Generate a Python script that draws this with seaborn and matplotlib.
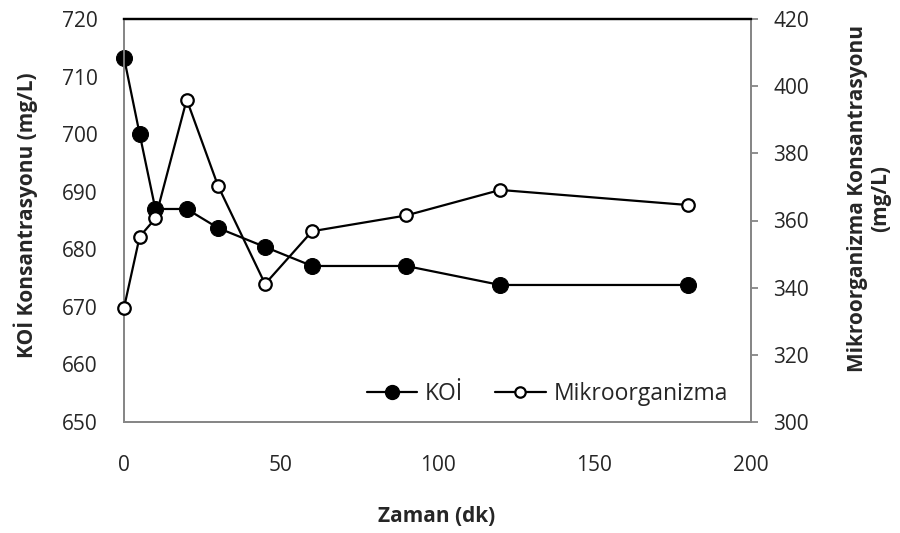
import matplotlib
matplotlib.use("Agg")
import matplotlib.pyplot as plt
from matplotlib.lines import Line2D
import seaborn as sns
import pandas as pd

# Sampling times (dk) and measured concentrations
zaman = [0, 5, 10, 20, 30, 45, 60, 90, 120, 180]
koi = [713.3, 700.0, 687.0, 687.0, 683.7, 680.4, 677.1, 677.1, 673.8, 673.8]
mikro = [334.0, 355.2, 360.6, 396.0, 370.3, 341.1, 356.8, 361.5, 369.1, 364.6]

left_ticks = [650, 660, 670, 680, 690, 700, 710, 720]
right_ticks = [300, 320, 340, 360, 380, 400, 420]
x_ticks = [0, 50, 100, 150, 200]

df = pd.DataFrame({"Zaman": zaman, "KOİ": koi, "Mikroorganizma": mikro})

sns.set_style("white")
plt.rcParams["font.family"] = ["Open Sans", "DejaVu Sans"]

FS = 15

fig = plt.figure(figsize=(9, 5.33), dpi=100)
ax = fig.add_axes([124 / 900, 1 - 422 / 533, (751 - 124) / 900, (422 - 19) / 533])
ax2 = ax.twinx()

grey = "#868686"
sns.lineplot(data=df, x="Zaman", y="KOİ", ax=ax, color="black", linewidth=1.6,
             marker="o", markersize=11.5, markerfacecolor="black",
             markeredgecolor="black", clip_on=False, zorder=3)
sns.lineplot(data=df, x="Zaman", y="Mikroorganizma", ax=ax2, color="black",
             linewidth=1.6, marker="o", markersize=9, markerfacecolor="white",
             markeredgecolor="black", markeredgewidth=1.6, clip_on=False, zorder=3)

ax.set_xlim(0, 200)
ax.set_ylim(650, 720)
ax2.set_ylim(300, 420)
ax.set_xticks(x_ticks)
ax.set_yticks(left_ticks)
ax2.set_yticks(right_ticks)
ax.set_xlabel("")
ax.set_ylabel("")
ax2.set_ylabel("")

for a in (ax, ax2):
    for side in ("left", "right", "bottom"):
        a.spines[side].set_color(grey)
        a.spines[side].set_linewidth(1.3)
    a.spines["top"].set_color("black")
    a.spines["top"].set_linewidth(1.6)

ax.tick_params(axis="y", length=0, pad=19, labelsize=FS)
ax.tick_params(axis="x", length=0, pad=24, labelsize=FS)
ax2.tick_params(axis="y", direction="out", length=5, width=1.3, color=grey,
                pad=11, labelsize=FS, right=True)

fig.text(26 / 900, 1 - 215 / 533, "KOİ Konsantrasyonu (mg/L)", rotation=90,
         ha="center", va="center", fontsize=FS, fontweight="bold")
fig.text(869 / 900, 1 - 198 / 533, "Mikroorganizma Konsantrasyonu\n(mg/L)",
         rotation=90, ha="center", va="center", fontsize=FS, fontweight="bold",
         multialignment="center", linespacing=1.1)
fig.text(437 / 900, 1 - 517 / 533, "Zaman (dk)", ha="center", va="center",
         fontsize=FS, fontweight="bold")

handles = [
    Line2D([], [], color="black", linewidth=1.6, marker="o", markersize=10,
           markerfacecolor="black", markeredgecolor="black"),
    Line2D([], [], color="black", linewidth=1.6, marker="o", markersize=7.5,
           markerfacecolor="white", markeredgecolor="black", markeredgewidth=1.6),
]
ax2.legend(handles, ["KOİ", "Mikroorganizma"], ncol=2, frameon=False,
           loc="center right", bbox_to_anchor=(728 / 900, 1 - 394 / 533),
           bbox_transform=fig.transFigure, fontsize=16.5, handlelength=2.2,
           handletextpad=0.35, columnspacing=1.4, borderaxespad=0, borderpad=0)

fig.savefig("out.png", dpi=100)
